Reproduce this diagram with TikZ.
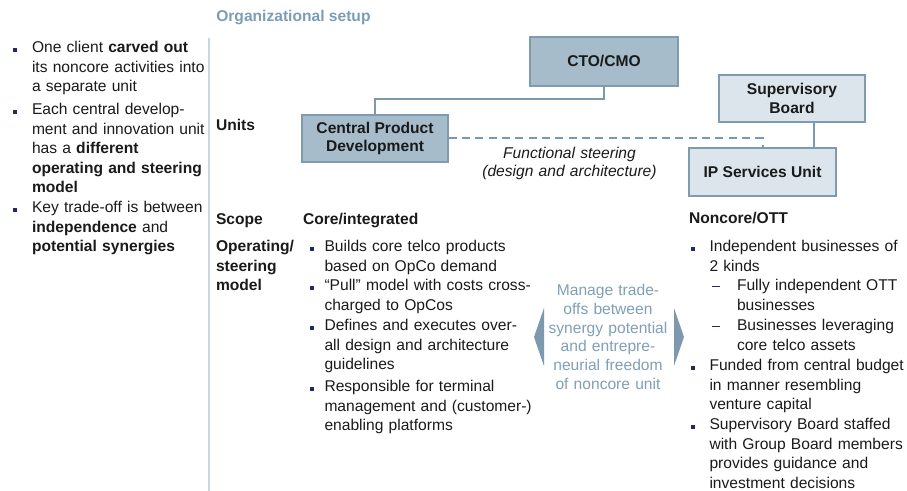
\documentclass[tikz,border=0pt]{standalone}
\usepackage{fontspec}
\setmainfont{Liberation Sans}
\usetikzlibrary{calc}
\definecolor{boxdark}{HTML}{A6BCCA}
\definecolor{boxlight}{HTML}{DCE5EB}
\definecolor{boxline}{HTML}{7F9BAF}
\definecolor{connc}{HTML}{7C98AC}
\definecolor{titlec}{HTML}{7B9DB4}
\definecolor{midc}{HTML}{7F9FB6}
\definecolor{chevc}{HTML}{7D99AD}
\definecolor{vlinec}{HTML}{C8D7E0}
\definecolor{bulletc}{HTML}{1F2A6B}
\definecolor{textc}{HTML}{1A1A1A}
\newcommand\mybody{\fontsize{11.7pt}{14.55pt}\selectfont}
\newcommand\mybox{\fontsize{11.7pt}{13.9pt}\selectfont\bfseries}
\newcommand\lbul{\leavevmode\llap{\textcolor{bulletc}{\rule[0.75pt]{3pt}{3pt}}\hspace{11.25pt}}}
\newcommand\mbul{\leavevmode\llap{\textcolor{bulletc}{\rule[0.75pt]{3pt}{3pt}}\hspace{8pt}}}
\newcommand\subdash{\leavevmode\llap{\textcolor{bulletc}{\rule[3pt]{6pt}{0.7pt}}\hspace{12.75pt}}}
\tikzset{
  txt/.style={anchor=base west, inner sep=0pt, outer sep=0pt, align=left, text width=#1, font=\mybody, text=textc},
  txt/.default=150pt,
  lbl/.style={anchor=base west, inner sep=0pt, outer sep=0pt, align=left, text width=70pt, font=\mybody\bfseries, text=textc},
  darkbox/.style={draw=boxline, line width=1.1pt, fill=boxdark, font=\mybox, text=textc, align=center, inner sep=0pt},
  lightbox/.style={draw=boxline, line width=1.1pt, fill=boxlight, font=\mybox, text=textc, align=center, inner sep=0pt},
  conn/.style={draw=connc, line width=1.5pt},
  dconn/.style={draw=connc, line width=1.5pt, dash pattern=on 6pt off 4pt},
  chev/.style={fill=chevc},
}
\begin{document}
\begin{tikzpicture}[x=0.75pt,y=-0.75pt]
\useasboundingbox (0,0) rectangle (907,491);
% title
\node[anchor=base west, inner sep=0pt, font=\mybody\bfseries, text=titlec] (title) at (216,22) {Organizational setup};
% separator
\draw[vlinec, line width=1.3pt] (209,38) -- (209,491);
% left column
\node[txt=150pt] (l1) at (32,53) {\lbul One client \textbf{carved out}\\its noncore activities into\\a separate unit};
\node[txt=150pt] (l2) at (32,115) {\lbul Each central develop-\\ment and innovation unit\\has a \textbf{different}\\\textbf{operating and steering}\\\textbf{model}};
\node[txt=150pt] (l3) at (32,213) {\lbul Key trade-off is between\\\textbf{independence} and\\\textbf{potential synergies}};
% row labels
\node[lbl] (units) at (216,131) {Units};
\node[lbl] (scope) at (216,225) {Scope};
\node[lbl] (opmod) at (216,252) {Operating/\\steering\\model};
% boxes
\node[darkbox, minimum width=111pt, minimum height=36.75pt] (cto) at (604,61.5) {CTO/CMO};
\node[darkbox, minimum width=109.5pt, minimum height=35.25pt] (cpd) at (375,138.5) {Central Product\\Development};
\node[lightbox, minimum width=109.5pt, minimum height=35.25pt] (sb) at (792,98.5) {Supervisory\\Board};
\node[lightbox, minimum width=110.25pt, minimum height=36pt] (ip) at (762.5,172) {IP Services Unit};
% connectors
\draw[conn] (cpd.north) -- ++(0,-15) -| (cto.south);
\draw[dconn] (cpd.east) -| (ip.north);
\draw[conn] ([xshift=16.5pt]sb.south) -- ([xshift=16.5pt]sb.south |- ip.north);
\node[anchor=base, inner sep=0pt, align=center, text width=200pt, font=\fontsize{11.7pt}{13.8pt}\selectfont\itshape, text=textc] (fs) at (569.5,158.3) {Functional steering\\(design and architecture)};
% scope headings
\node[lbl, text width=120pt] (core) at (303,225) {Core/integrated};
\node[lbl, text width=120pt] (noncore) at (689,224) {Noncore/OTT};
% middle column
\node[txt=170pt] (m1) at (324.5,252) {\mbul Builds core telco products\\based on OpCo demand};
\node[txt=170pt] (m2) at (324.5,291) {\mbul “Pull” model with costs cross-\\charged to OpCos};
\node[txt=170pt] (m3) at (324.5,331) {\mbul Defines and executes over-\\all design and architecture\\guidelines};
\node[txt=170pt] (m4) at (324.5,392) {\mbul Responsible for terminal\\management and (customer-)\\enabling platforms};
% trade-off
\fill[chev] (534,337) -- (544,308) -- (544,366) -- cycle;
\fill[chev] (684,337) -- (674,308) -- (674,366) -- cycle;
\node[anchor=base, inner sep=0pt, align=center, text width=110pt, font=\fontsize{11.7pt}{14pt}\selectfont, text=midc] (mt) at (608,296) {Manage trade-\\offs between\\synergy potential\\and entrepre-\\neurial freedom\\of noncore unit};
% right column
\node[txt=150pt] (r1) at (709.5,252) {\lbul Independent businesses of\\2 kinds};
\node[txt=130pt] (r1a) at (737,291) {\subdash Fully independent OTT\\businesses};
\node[txt=130pt] (r1b) at (737,331) {\subdash Businesses leveraging\\core telco assets};
\node[txt=150pt] (r2) at (709.5,371) {\lbul Funded from central budget\\in manner resembling\\venture capital};
\node[txt=150pt] (r3) at (709.5,430) {\lbul Supervisory Board staffed\\with Group Board members\\provides guidance and\\investment decisions};
\end{tikzpicture}
\end{document}
